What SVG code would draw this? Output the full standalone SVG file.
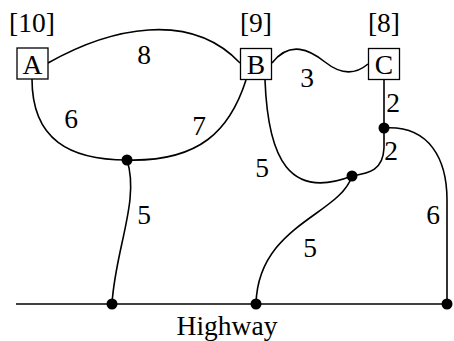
<svg xmlns="http://www.w3.org/2000/svg" width="454" height="341" viewBox="0 0 454 341">
<style>
.e{fill:none;stroke:#000;stroke-width:1.6}
.b{fill:#fff;stroke:#000;stroke-width:1.3}
text{font-family:'Liberation Serif','Times New Roman',Times,'DejaVu Serif',serif;font-size:27.5px;fill:#000;text-anchor:middle}
.d{fill:#000}
</style>
<g id="connectors">
<path class="e" d="M48,63 C110,28 190,10 240,63"/>
<path class="e" d="M32,79 C32,140 70,160 127,160"/>
<path class="e" d="M127,160 C200,162 230,130 246,80"/>
<path class="e" d="M272,63 C290,40 310,50 325,62 C340,74 355,75 368,64"/>
<path class="e" d="M384,79 L384,128"/>
<path class="e" d="M384,128 L384,148 C383,170 370,173 352,176"/>
<path class="e" d="M265,80 C268,160 290,200 352,176"/>
<path class="e" d="M127,160 C140,200 115,250 112,304"/>
<path class="e" d="M352,176 C340,215 258,225 256,304"/>
<path class="e" d="M384,128 C430,125 447,160 447,200 L447,304"/>
<path class="e" d="M16,304 L447,304"/>
<text x="144" y="64">8</text>
<text x="71" y="128">6</text>
<text x="199" y="135">7</text>
<text x="307" y="87">3</text>
<text x="393" y="112">2</text>
<text x="391" y="160">2</text>
<text x="262" y="177">5</text>
<text x="144" y="224">5</text>
<text x="310" y="257">5</text>
<text x="433" y="224">6</text>
</g>
<g id="A"><rect class="b" x="17" y="48" width="31" height="31"/><text x="32.5" y="74">A</text><text x="32" y="32">[10]</text></g>
<g id="B"><rect class="b" x="240.5" y="48.5" width="31" height="31"/><text x="256" y="74">B</text><text x="256" y="32">[9]</text></g>
<g id="C"><rect class="b" x="368.5" y="48.5" width="31" height="31"/><text x="384" y="74">C</text><text x="384" y="32">[8]</text></g>
<g id="J1"><circle class="d" cx="127" cy="160" r="5.5"/></g>
<g id="J2"><circle class="d" cx="352" cy="176" r="5.5"/></g>
<g id="J3"><circle class="d" cx="384" cy="128" r="5.5"/></g>
<g id="H1"><circle class="d" cx="112" cy="304" r="5.5"/></g>
<g id="H2"><circle class="d" cx="256" cy="304" r="5.5"/></g>
<g id="H3"><circle class="d" cx="447" cy="304" r="5.5"/></g>
<g id="Highway"><text x="227" y="335">Highway</text></g>
</svg>
